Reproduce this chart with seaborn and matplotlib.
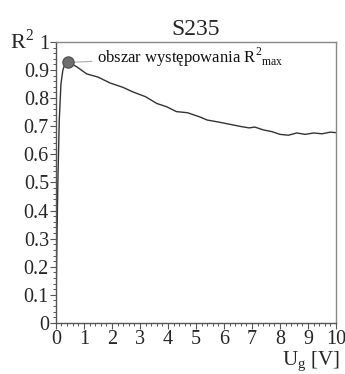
import numpy as np
import seaborn as sns
import matplotlib
matplotlib.use("Agg")
import matplotlib.pyplot as plt
from matplotlib.ticker import MultipleLocator

# values (U_g in V, R^2)
ug = [0.0, 0.03, 0.07, 0.12, 0.18, 0.25, 0.32, 0.4, 0.5, 0.75, 1.1, 1.5, 1.93,
      2.4, 2.75, 3.2, 3.6, 3.96, 4.3, 4.7, 5.14, 5.4, 5.8, 6.3, 6.6, 6.9, 7.1,
      7.4, 7.7, 8.0, 8.3, 8.6, 8.9, 9.2, 9.5, 9.8, 10.0]
r2 = [0.0, 0.25, 0.5, 0.72, 0.85, 0.9, 0.92, 0.928, 0.925, 0.911, 0.886, 0.875,
      0.854, 0.838, 0.822, 0.805, 0.781, 0.769, 0.752, 0.748, 0.733, 0.722,
      0.715, 0.705, 0.699, 0.694, 0.697, 0.687, 0.681, 0.671, 0.668, 0.676,
      0.671, 0.676, 0.673, 0.679, 0.677]
peak_x, peak_y = 0.43, 0.927
note = "obszar występowania R$^{2}$$_{\\mathrm{max}}$"

sns.set_style("white")
plt.rcParams["font.family"] = ["Liberation Serif", "DejaVu Serif"]
plt.rcParams["mathtext.fontset"] = "custom"
plt.rcParams["mathtext.rm"] = "Liberation Serif"

fig = plt.figure(figsize=(3.45, 3.74), dpi=100)
ax = fig.add_axes([0.162, 0.1364, 0.812, 0.7516])

sns.lineplot(x=ug, y=r2, ax=ax, color="#333333", linewidth=1.0)
ax.plot([peak_x], [peak_y], "o", ms=8, color="#6e6e6e", mec="#555555", zorder=5)
ax.annotate(note, xy=(peak_x, peak_y), xytext=(1.45, 0.945),
            fontsize=12, va="center", ha="left", color="#111111",
            arrowprops=dict(arrowstyle="-", color="#aaaaaa", lw=0.8,
                            shrinkA=1, shrinkB=3))

ax.set_xlim(0, 10)
ax.set_ylim(0, 1)
ax.xaxis.set_major_locator(MultipleLocator(1))
ax.xaxis.set_minor_locator(MultipleLocator(0.2))
ax.yaxis.set_major_locator(MultipleLocator(0.1))
ax.yaxis.set_minor_locator(MultipleLocator(0.02))
ax.set_yticks(np.arange(0, 1.01, 0.1))
ax.set_yticklabels(["0"] + [f"{v:.1f}" for v in np.arange(0.1, 0.95, 0.1)] + ["1"])

ax.tick_params(which="major", direction="out", length=4, width=0.8,
               color="#555555", labelsize=14.5, pad=1.0)
ax.tick_params(which="minor", direction="out", length=2.5, width=0.7,
               color="#555555")
ax.tick_params(axis="both", which="both", bottom=True, left=True,
               top=False, right=False)
for side in ["left", "bottom"]:
    ax.spines[side].set_color("#555555")
    ax.spines[side].set_linewidth(1.0)
for side in ["top", "right"]:
    ax.spines[side].set_color("#888888")
    ax.spines[side].set_linewidth(1.0)

ax.set_title("S235", fontsize=17, pad=5)
ax.text(-0.165, 1.0, "R$^{2}$", transform=ax.transAxes, fontsize=16,
        ha="left", va="center")
ax.text(1.015, -0.097, "U$_{\\mathrm{g}}$ [V]", transform=ax.transAxes,
        fontsize=15, ha="right", va="top")

fig.savefig("out.png", dpi=100)
